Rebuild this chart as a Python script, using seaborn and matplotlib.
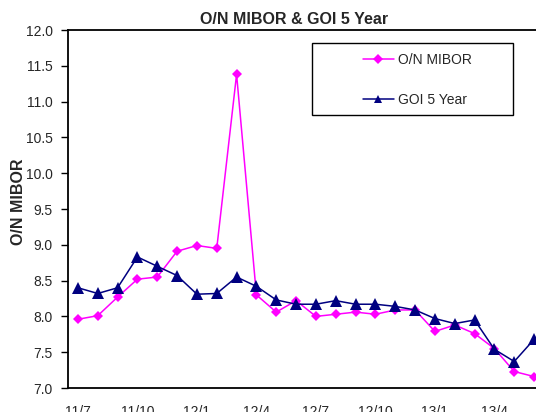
import pandas as pd
import seaborn as sns
import matplotlib.pyplot as plt
from matplotlib.lines import Line2D
from matplotlib.patches import Rectangle

# monthly data, 2011/7 .. 2013/6
months = [
    "11/7", "11/8", "11/9", "11/10", "11/11", "11/12",
    "12/1", "12/2", "12/3", "12/4", "12/5", "12/6",
    "12/7", "12/8", "12/9", "12/10", "12/11", "12/12",
    "13/1", "13/2", "13/3", "13/4", "13/5", "13/6",
]
mibor = [7.96, 8.01, 8.27, 8.52, 8.55, 8.91, 8.99, 8.95, 11.38, 8.30, 8.06, 8.22,
         8.00, 8.03, 8.06, 8.03, 8.09, 8.09, 7.79, 7.88, 7.76, 7.55, 7.23, 7.16]
goi5 = [8.40, 8.32, 8.40, 8.83, 8.70, 8.57, 8.31, 8.32, 8.55, 8.42, 8.23, 8.17,
        8.17, 8.22, 8.17, 8.17, 8.14, 8.09, 7.97, 7.90, 7.95, 7.54, 7.37, 7.68]
series_names = ["O/N MIBOR", "GOI 5 Year"]
y_ticks = [7.0, 7.5, 8.0, 8.5, 9.0, 9.5, 10.0, 10.5, 11.0, 11.5, 12.0]

COLORS = {"O/N MIBOR": "#FF00FF", "GOI 5 Year": "#000080"}
MARKERS = {"O/N MIBOR": "D", "GOI 5 Year": "^"}


def build_frame():
    idx = list(range(len(months)))
    df = pd.DataFrame({
        "pos": idx * 2,
        "month": months * 2,
        "rate": mibor + goi5,
        "series": [series_names[0]] * len(idx) + [series_names[1]] * len(idx),
    })
    return df


def plot_chart(df):
    sns.set_style("white")
    plt.rcParams["font.family"] = ["Liberation Sans", "DejaVu Sans"]

    fig = plt.figure(figsize=(5.36, 4.12), dpi=100)
    # plot area runs past the right edge, like the cropped original
    ax = fig.add_axes([68 / 536, 24 / 412, 476 / 536, 358 / 412])

    sns.lineplot(
        data=df, x="pos", y="rate", hue="series", style="series",
        palette=COLORS, markers=MARKERS,
        dashes=False, linewidth=1.1, markeredgewidth=0,
        ax=ax, legend=False,
    )
    for line, ms in zip(ax.lines, [5.5, 8]):
        line.set_markersize(ms)

    ax.set_xlim(-0.5, len(months) - 0.5)
    ax.set_ylim(7.0, 12.0)
    ax.set_yticks(y_ticks)
    ax.set_yticklabels([f"{v:.1f}" for v in y_ticks], fontsize=10)

    # tick marks between categories, labels on every third month
    ax.set_xticks([i - 0.5 for i in range(0, len(months) + 1, 3)])
    ax.set_xticklabels([])
    label_pos = list(range(0, len(months), 3))
    ax.set_xticks(label_pos, minor=True)
    ax.set_xticklabels([months[i] for i in label_pos], minor=True, fontsize=10)
    ax.tick_params(axis="x", which="major", direction="out", length=5, width=1, color="black")
    ax.tick_params(axis="x", which="minor", length=0, pad=12)
    ax.tick_params(axis="y", direction="out", length=5, width=1, color="black", pad=6, left=True)

    for side in ["left", "bottom", "top", "right"]:
        ax.spines[side].set_color("black")
        ax.spines[side].set_linewidth(1.3)

    ax.set_xlabel("")
    ax.set_ylabel("")
    fig.text(19 / 536, 1 - 202 / 412, "O/N MIBOR", rotation=90, ha="center", va="center",
             fontsize=11.5, fontweight="bold")
    fig.text(294 / 536, 1 - 20 / 412, "O/N MIBOR & GOI 5 Year", ha="center", va="center",
             fontsize=11.5, fontweight="bold")

    # legend box
    fig.patches.append(Rectangle((311.5 / 536, 1 - 115 / 412), 201 / 536, 72 / 412,
                                 transform=fig.transFigure, facecolor="white",
                                 edgecolor="black", linewidth=1, zorder=3))
    handles = [
        Line2D([], [], color=COLORS[name], marker=MARKERS[name], markersize=ms,
               markeredgewidth=0, linewidth=1.1)
        for name, ms in zip(series_names, [5, 6])
    ]
    leg = fig.legend(
        handles=handles, labels=series_names,
        loc="upper left", bbox_to_anchor=(363 / 536, 1 - 53 / 412),
        frameon=False, fontsize=10, handlelength=2.2, handletextpad=0.3,
        labelspacing=1.85, borderpad=0, borderaxespad=0,
    )
    leg.set_zorder(4)

    fig.savefig("out.png", dpi=100)


if __name__ == "__main__":
    plot_chart(build_frame())
